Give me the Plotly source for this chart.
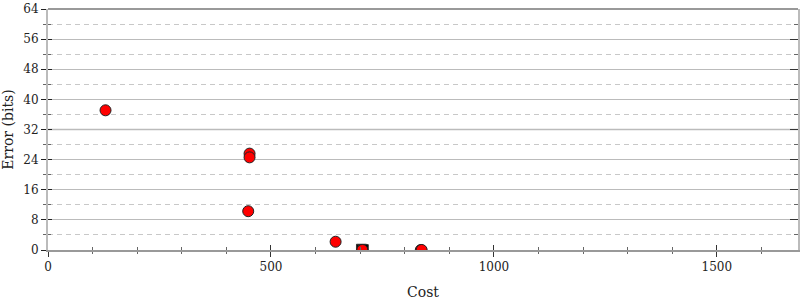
import plotly.graph_objects as go

# Data
circle_cost = [129, 452, 452, 449, 645, 705, 836, 838]
circle_err = [37.1, 25.6, 24.6, 10.3, 2.2, 0.0, 0.0, 0.0]
square_cost = [703, 707]
square_err = [0.2, 0.1]

x_range = [0, 1682]
y_range = [0, 64]

FONT = "DejaVu Serif"

fig = go.Figure()
fig.add_trace(go.Scatter(
    x=square_cost, y=square_err, mode="markers",
    marker=dict(symbol="square", size=10, color="black",
                line=dict(color="#333", width=1)),
    showlegend=False, hoverinfo="skip"))
fig.add_trace(go.Scatter(
    x=circle_cost, y=circle_err, mode="markers",
    marker=dict(symbol="circle", size=11, color="#ff0000",
                line=dict(color="#222", width=1)),
    showlegend=False, hoverinfo="skip"))

common_y = dict(range=y_range, dtick=8, tick0=0, zeroline=False)

fig.update_layout(
    width=800, height=300,
    margin=dict(l=48, r=2, t=7, b=50),
    plot_bgcolor="white", paper_bgcolor="white",
    font=dict(family=FONT, size=12, color="#222"),
    xaxis=dict(
        range=x_range, dtick=500, tick0=0,
        ticks="outside", ticklen=5, tickwidth=1.3, tickcolor="#333",
        showline=True, linecolor="#999", linewidth=2,
        showgrid=False, zeroline=False,
        minor=dict(dtick=100, ticks="outside", ticklen=2, tickwidth=1, tickcolor="#666", showgrid=False),
        title=dict(text="Cost", standoff=14),
    ),
    xaxis2=dict(
        range=x_range, dtick=500, tick0=0, overlaying="x", anchor="y",
        ticks="inside", ticklen=5, tickwidth=1.3, tickcolor="#333",
        showticklabels=False, showline=False, showgrid=False, zeroline=False,
        minor=dict(dtick=100, ticks="inside", ticklen=3, tickwidth=1, tickcolor="#666", showgrid=False),
    ),
    yaxis=dict(
        **common_y,
        ticks="outside", ticklen=5, tickwidth=1.3, tickcolor="#222",
        showline=True, linecolor="#bbb", linewidth=2,
        showgrid=True, gridcolor="#bbb", gridwidth=1,
        minor=dict(dtick=4, ticks="outside", ticklen=3, tickwidth=1, tickcolor="#666",
                   showgrid=True, gridcolor="#c8c8c8", griddash="5px,4px", gridwidth=1),
        title=dict(text="Error (bits)", standoff=6),
    ),
    yaxis2=dict(
        **common_y, overlaying="y", side="left", anchor="x",
        ticks="inside", ticklen=4, tickwidth=1.3, tickcolor="#222",
        showticklabels=False, showline=False, showgrid=False,
        minor=dict(dtick=4, ticks="inside", ticklen=3, tickwidth=1, tickcolor="#666", showgrid=False),
    ),
    yaxis3=dict(
        **common_y, overlaying="y", side="right", anchor="x",
        ticks="inside", ticklen=8, tickwidth=1.3, tickcolor="#333",
        showticklabels=False, showline=True, linecolor="#bbb", linewidth=2,
        showgrid=False,
        minor=dict(dtick=4, ticks="inside", ticklen=4, tickwidth=1, tickcolor="#666", showgrid=False),
    ),
    shapes=[
        dict(type="line", xref="paper", yref="paper", x0=0, x1=1, y0=1, y1=1,
             line=dict(color="#999", width=2), layer="above"),
        dict(type="line", xref="paper", yref="y", x0=0, x1=1, y0=32, y1=32,
             line=dict(color="#ddd", width=2), layer="below"),
    ],
)
# dummy traces to activate overlay axes
fig.add_trace(go.Scatter(x=[None], y=[None], xaxis="x2", yaxis="y2",
                         showlegend=False, hoverinfo="skip"))
fig.add_trace(go.Scatter(x=[None], y=[None], xaxis="x", yaxis="y3",
                         showlegend=False, hoverinfo="skip"))

fig.write_html("out.html")
